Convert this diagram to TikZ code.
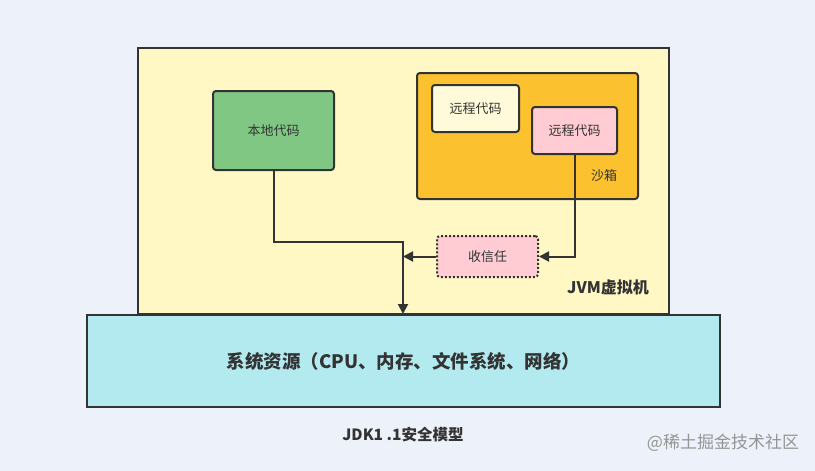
\documentclass[tikz,border=0pt]{standalone}
\usepackage{fontspec}
\setmainfont{Noto Sans CJK SC}
\usetikzlibrary{arrows.meta}
\definecolor{bgc}{HTML}{EDF2FA}
\definecolor{jvmc}{HTML}{FFF8C5}
\definecolor{sysc}{HTML}{B2EAF0}
\definecolor{greenc}{HTML}{81C784}
\definecolor{sandc}{HTML}{FBC12E}
\definecolor{creamc}{HTML}{FFFAD9}
\definecolor{pinkc}{HTML}{FFCCD3}
\definecolor{linec}{HTML}{333333}
\begin{document}
\begin{tikzpicture}[x=1pt,y=-1pt,
  box/.style={draw=linec,line width=2pt,rounded corners=3pt},
  conn/.style={draw=linec,line width=2pt},
  arr/.style={conn,-{Triangle[length=10pt,width=10pt]}},
  lbl/.style={font=\fontsize{13}{15}\selectfont,text=linec}]
\fill[bgc] (0,0) rectangle (815,471);
\useasboundingbox (0,0) rectangle (815,471);
% JVM
\draw[draw=linec,line width=2pt,fill=jvmc] (138,48) rectangle (669,314);
\node[font=\bfseries\fontsize{16}{18}\selectfont,text=linec] (jvmlbl) at (608,287) {JVM虚拟机};
% system
\node[draw=linec,line width=2pt,fill=sysc,minimum width=633pt,minimum height=92pt,inner sep=0pt,font=\bfseries\fontsize{18.5}{21}\selectfont,text=linec] (sys) at (403.5,361) {系统资源（CPU、内存、文件系统、网络）};
% local code
\node[box,fill=greenc,minimum width=121pt,minimum height=79pt,lbl] (local) at (273.5,130.5) {本地代码};
% sandbox
\node[box,fill=sandc,minimum width=221pt,minimum height=126pt] (sand) at (527.5,136) {};
\node[box,fill=creamc,minimum width=87pt,minimum height=47pt,lbl] (remote1) at (475.5,108.5) {远程代码};
\node[box,fill=pinkc,minimum width=85pt,minimum height=47pt,lbl] (remote2) at (574.5,130.5) {远程代码};
\node[lbl] (sandlbl) at (604,176) {沙箱};
% trust
\node[draw=linec,line width=2pt,dotted,rounded corners=3pt,fill=pinkc,minimum width=101pt,minimum height=41pt,lbl] (trust) at (487.5,256.5) {收信任};
% connectors
\coordinate (j) at (403,242);
\draw[arr] (local.south) |- (j) -- (sys.north -| j);
\draw[arr] (remote2.south) |- (trust.east);
\draw[arr] (trust.west) -- (trust.west -| j);
% caption
\node[font=\bfseries\fontsize{15.5}{18}\selectfont,text=linec] (cap) at (403,435) {JDK1 .1安全模型};
\node[font=\fontsize{17}{20}\selectfont,text=black!42] (wm) at (723,443) {@稀土掘金技术社区};
\end{tikzpicture}
\end{document}
